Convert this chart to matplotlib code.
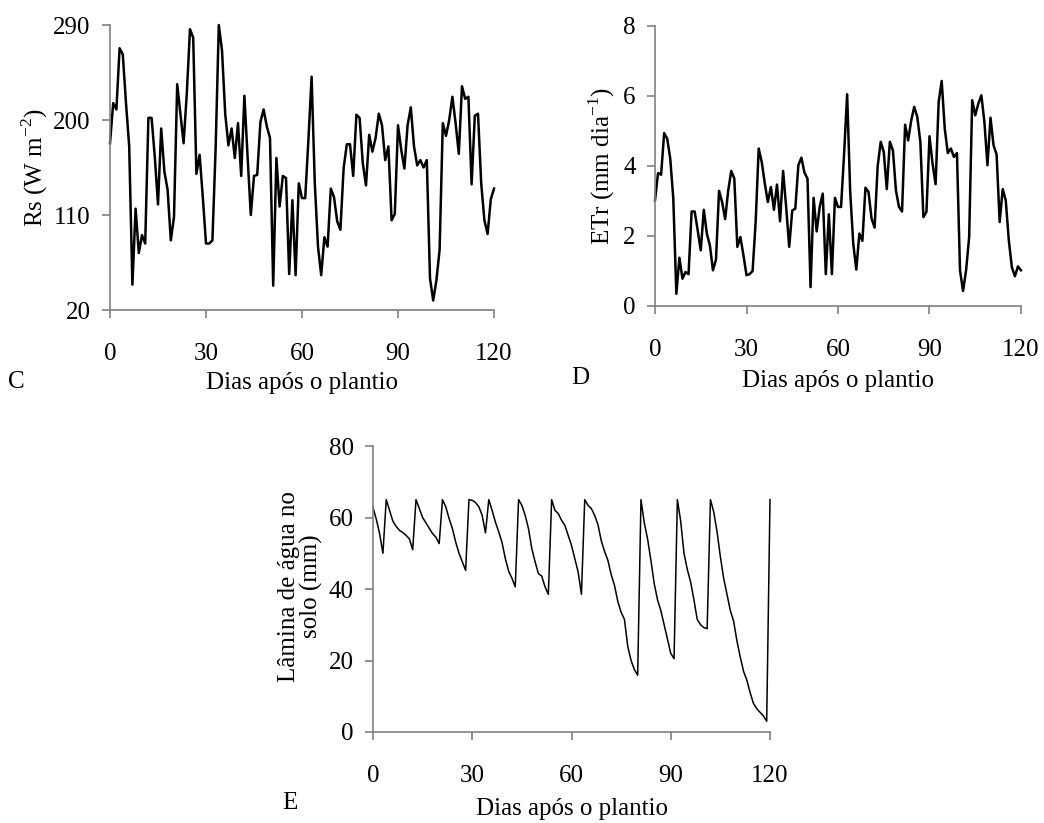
"""Rs, ETr and soil water depth over the crop cycle (panels C, D, E)."""

import matplotlib
matplotlib.use("Agg")
import matplotlib.pyplot as plt
import numpy as np

plt.rcParams["font.family"] = ["Liberation Serif", "DejaVu Serif"]
plt.rcParams["mathtext.fontset"] = "custom"
plt.rcParams["mathtext.rm"] = "Liberation Serif"
plt.rcParams["font.size"] = 18

days = np.arange(0, 121)

rs = [178, 216, 210, 268, 262, 216, 175, 44, 116, 74,
      91, 83, 202, 202, 165, 120, 192, 151, 134, 86,
      108, 234, 206, 178, 225, 286, 278, 149, 167, 127,
      83, 83, 86, 172, 290, 266, 206, 176, 192, 164,
      197, 147, 223, 165, 110, 147, 148, 198, 210, 194,
      183, 43, 164, 118, 147, 145, 54, 124, 53, 140,
      126, 126, 181, 241, 140, 80, 53, 89, 80, 135,
      127, 104, 96, 154, 177, 177, 147, 205, 202, 159,
      138, 186, 170, 183, 206, 195, 162, 175, 105, 111,
      195, 172, 154, 195, 212, 175, 157, 162, 155, 162,
      50, 29, 48, 77, 197, 185, 200, 222, 197, 168,
      232, 220, 222, 139, 204, 206, 140, 105, 92, 125,
      135]

etr = [3.02, 3.80, 3.75, 4.94, 4.78, 4.21, 3.07, 0.35, 1.38, 0.78,
       0.97, 0.91, 2.70, 2.70, 2.16, 1.59, 2.75, 2.07, 1.73, 1.02,
       1.33, 3.29, 2.97, 2.48, 3.30, 3.86, 3.64, 1.69, 1.97, 1.45,
       0.88, 0.91, 1.00, 2.40, 4.50, 4.11, 3.50, 2.97, 3.40, 2.75,
       3.47, 2.42, 3.86, 2.83, 1.69, 2.73, 2.78, 4.02, 4.24, 3.81,
       3.64, 0.54, 3.09, 2.13, 2.83, 3.21, 0.91, 2.62, 0.91, 3.09,
       2.83, 2.83, 4.35, 6.05, 3.26, 1.78, 1.04, 2.07, 1.86, 3.38,
       3.26, 2.50, 2.24, 3.99, 4.69, 4.40, 3.34, 4.69, 4.45, 3.30,
       2.83, 2.70, 5.18, 4.73, 5.30, 5.69, 5.40, 4.69, 2.54, 2.69,
       4.85, 4.07, 3.48, 5.83, 6.43, 5.07, 4.37, 4.50, 4.26, 4.37,
       1.02, 0.43, 1.02, 1.97, 5.88, 5.45, 5.78, 6.02, 5.26, 4.02,
       5.38, 4.59, 4.33, 2.40, 3.34, 3.02, 1.88, 1.11, 0.85, 1.13,
       1.02]

lamina = [62.8, 59.5, 55.5, 50.0, 65.0, 62.0, 59.0, 57.5, 56.4, 55.8,
          55.0, 54.0, 51.0, 65.0, 62.5, 60.0, 58.5, 57.0, 55.5, 54.5,
          52.7, 65.0, 63.0, 59.7, 56.9, 53.1, 50.0, 47.6, 45.2, 65.0,
          64.8, 64.2, 63.0, 60.6, 55.7, 65.0, 62.0, 58.7, 56.0, 53.0,
          48.5, 45.0, 43.0, 40.6, 65.0, 63.4, 60.6, 56.9, 51.3, 47.6,
          44.3, 43.6, 40.6, 38.5, 65.0, 62.0, 61.1, 59.2, 57.8, 55.0,
          52.2, 48.5, 44.8, 38.5, 65.0, 63.4, 62.5, 60.6, 58.0, 53.5,
          50.5, 48.0, 44.0, 41.0, 36.5, 33.5, 31.5, 24.0, 20.0, 17.5,
          15.9, 65.0, 58.5, 54.0, 48.0, 41.5, 37.0, 34.0, 30.0, 26.0,
          22.0, 20.5, 65.0, 59.0, 50.0, 45.5, 42.0, 37.0, 31.5, 30.0,
          29.2, 28.9, 65.0, 61.5, 56.0, 49.0, 43.0, 38.5, 34.0, 31.0,
          25.5, 21.0, 17.0, 14.5, 11.0, 8.0, 6.5, 5.5, 4.5, 3.0,
          65.0]

x_ticks = [0, 30, 60, 90, 120]
rs_ticks = [20, 110, 200, 290]
etr_ticks = [0, 2, 4, 6, 8]
lamina_ticks = [0, 20, 40, 60, 80]
x_label = "Dias após o plantio"

W, H = 1044, 823
fig = plt.figure(figsize=(W / 100, H / 100), dpi=100)


def px_axes(x0, x1, y_top, y_bot):
    return fig.add_axes([x0 / W, 1 - y_bot / H, (x1 - x0) / W, (y_bot - y_top) / H])


def style(ax, yticks):
    for s in ("top", "right"):
        ax.spines[s].set_visible(False)
    for s in ("left", "bottom"):
        ax.spines[s].set_color("#808080")
        ax.spines[s].set_linewidth(1.2)
    ax.set_xlim(0, 120)
    ax.set_xticks(x_ticks)
    ax.set_yticks(yticks)
    ax.set_ylim(yticks[0], yticks[-1])
    ax.tick_params(axis="both", direction="out", color="#808080", length=6, width=1.2)
    ax.tick_params(axis="x", pad=18)
    ax.tick_params(axis="y", pad=8)


ax_c = px_axes(110, 494, 25, 310)
ax_c.plot(days, rs, color="black", lw=1.8, clip_on=False)
style(ax_c, rs_ticks)
ax_c.set_ylabel(r"Rs (W m$^{\mathrm{-2}}$)")
ax_c.yaxis.set_label_coords(-0.156, 0.5)
ax_c.set_xlabel(x_label)
ax_c.xaxis.set_label_coords(0.5, -0.218)
fig.text(16 / W, 1 - 382 / H, "C", ha="center", va="center")

ax_d = px_axes(655, 1021, 26, 306)
ax_d.plot(days, etr, color="black", lw=1.8, clip_on=False)
style(ax_d, etr_ticks)
ax_d.set_ylabel(r"ETr (mm dia$^{\mathrm{-1}}$)")
ax_d.yaxis.set_label_coords(-0.105, 0.5)
ax_d.set_xlabel(x_label)
ax_d.xaxis.set_label_coords(0.5, -0.229)
fig.text(580 / W, 1 - 378 / H, "D", ha="center", va="center")

ax_e = px_axes(373, 770, 446, 732)
ax_e.plot(days, lamina, color="black", lw=1.1, clip_on=False)
style(ax_e, lamina_ticks)
ax_e.set_ylabel("Lâmina de água no\nsolo (mm)", linespacing=1.0)
ax_e.yaxis.set_label_coords(-0.125, 0.51)
ax_e.set_xlabel(x_label)
ax_e.xaxis.set_label_coords(0.5, -0.231)
fig.text(290 / W, 1 - 803 / H, "E", ha="center", va="center")

fig.savefig("out.png", dpi=100)
plt.close(fig)
